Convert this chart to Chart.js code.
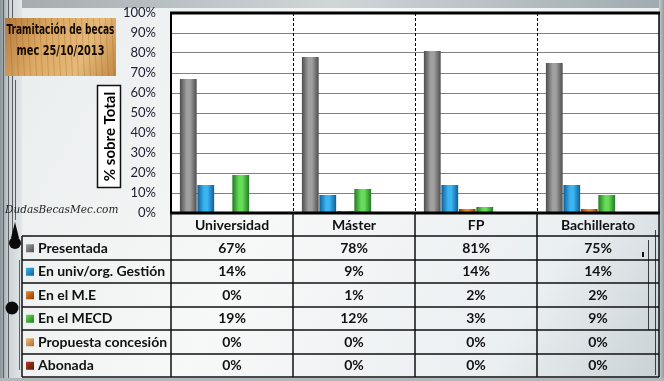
<!DOCTYPE html>
<html><head><meta charset="utf-8">
<script src="https://cdn.jsdelivr.net/npm/chart.js@4/dist/chart.umd.min.js"></script>
<style>html,body{margin:0;padding:0;background:#eef1f1;}canvas{display:block;}</style>
</head><body>
<canvas id="c" width="664" height="381"></canvas>
<script>
const categories = ['Universidad', 'Máster', 'FP', 'Bachillerato'];
const seriesNames = ['Presentada', 'En univ/org. Gestión', 'En el M.E', 'En el MECD', 'Propuesta concesión', 'Abonada'];
const presentada = [67, 78, 81, 75];
const enUniv = [14, 9, 14, 14];
const enME = [0, 1, 2, 2];
const enMECD = [19, 12, 3, 9];
const propuesta = [0, 0, 0, 0];
const abonada = [0, 0, 0, 0];
const yTicks = [0, 10, 20, 30, 40, 50, 60, 70, 80, 90, 100];
const titleLines = ['Tramitación de becas', 'mec 25/10/2013'];
const yTitle = '% sobre Total';
const watermark = 'DudasBecasMec.com';

const seriesValues = [presentada, enUniv, enME, enMECD, propuesta, abonada];
const colors = [
  {base:'#808080', edge:'#4e4e4e', mid:'#a0a0a0'},
  {base:'#1c8fd4', edge:'#0d5f98', mid:'#3bb4f0'},
  {base:'#cc6414', edge:'#8a3a08', mid:'#e88a30'},
  {base:'#40b840', edge:'#237a23', mid:'#66dc5a'},
  {base:'#e0a060', edge:'#a86a30', mid:'#f0c080'},
  {base:'#8b2a10', edge:'#5a1506', mid:'#b04020'}
];

const FONT = 'Lato, "Open Sans", "DejaVu Sans", sans-serif';

const decoPlugin = {
  id: 'deco',
  beforeDraw(chart) {
    const ctx = chart.ctx, W = chart.width, H = chart.height, ca = chart.chartArea;
    ctx.save();
    let g = ctx.createLinearGradient(0, 0, W, H);
    g.addColorStop(0, '#e8ecec');
    g.addColorStop(0.45, '#f7f8f8');
    g.addColorStop(0.8, '#eaeff1');
    g.addColorStop(1, '#c8d0d4');
    ctx.fillStyle = g; ctx.fillRect(0, 0, W, H);
    g = ctx.createLinearGradient(0, 0, W, 0);
    g.addColorStop(0, '#a2aaae'); g.addColorStop(0.5, '#d0d6d8'); g.addColorStop(1, '#a0aab0');
    ctx.fillStyle = g; ctx.fillRect(0, 0, W, 8);
    g = ctx.createLinearGradient(0, 0, 22, 0);
    g.addColorStop(0, '#8a9398'); g.addColorStop(0.4, '#cdd3d6'); g.addColorStop(1, '#e2e6e8');
    ctx.fillStyle = g; ctx.fillRect(0, 0, 22, H);
    ctx.strokeStyle = '#5a6064'; ctx.lineWidth = 1;
    [[3.5,0,H],[8.5,0,H],[12.5,0,245],[15.5,80,220],[19.5,260,370]].forEach(l => {ctx.beginPath(); ctx.moveTo(l[0], l[1]); ctx.lineTo(l[0], l[2]); ctx.stroke();});
    ctx.fillStyle = '#0a0a0a';
    ctx.beginPath(); ctx.arc(15, 243, 6, 0, Math.PI*2); ctx.fill();
    ctx.beginPath(); ctx.moveTo(11, 238); ctx.lineTo(19, 238); ctx.lineTo(15, 222); ctx.fill();
    ctx.beginPath(); ctx.arc(12, 308, 6.5, 0, Math.PI*2); ctx.fill();
    g = ctx.createLinearGradient(659, 0, W, 0);
    g.addColorStop(0, '#c4cbcf'); g.addColorStop(1, '#929ca0');
    ctx.fillStyle = g; ctx.fillRect(659, 0, 5, H);
    ctx.strokeStyle = '#3a3f42';
    ctx.beginPath(); ctx.moveTo(648.5, 240); ctx.lineTo(648.5, 330); ctx.stroke();
    ctx.beginPath(); ctx.moveTo(655.5, 230); ctx.lineTo(655.5, 375); ctx.stroke();
    ctx.fillStyle = '#111'; ctx.fillRect(642, 252, 2, 5);
    ctx.fillStyle = '#b0b8bc'; ctx.fillRect(0, 378, W, 3);
    ctx.fillStyle = '#ffffff';
    ctx.fillRect(ca.left, ca.top, ca.right - ca.left, ca.bottom - ca.top);
    g = ctx.createLinearGradient(5, 18, 116, 75);
    g.addColorStop(0, '#b57a3c'); g.addColorStop(0.35, '#dba862'); g.addColorStop(0.7, '#e6b978'); g.addColorStop(1, '#c28a48');
    ctx.fillStyle = g; ctx.fillRect(5, 18, 111, 58);
    ctx.strokeStyle = 'rgba(120,70,20,0.22)';
    for (let x = 9; x < 116; x += 6) { ctx.beginPath(); ctx.moveTo(x + 0.5, 18); ctx.lineTo(x + 3.5, 76); ctx.stroke(); }
    ctx.fillStyle = '#140a00';
    ctx.textAlign = 'center'; ctx.textBaseline = 'middle';
    ctx.font = 'bold 14px "DejaVu Sans Condensed", "Liberation Sans Narrow", sans-serif';
    ctx.fillText(titleLines[0], 60.5, 30, 108);
    ctx.fillText(titleLines[1], 60.5, 51, 88);
    ctx.restore();
  },
  beforeDatasetsDraw(chart) {
    const ctx = chart.ctx;
    chart.data.datasets.forEach((ds, di) => {
      const meta = chart.getDatasetMeta(di);
      const c = colors[di];
      meta.data.forEach(el => {
        const p = el.getProps(['x', 'width'], true);
        const x0 = p.x - p.width / 2, x1 = p.x + p.width / 2;
        const g = ctx.createLinearGradient(x0, 0, x1, 0);
        g.addColorStop(0, c.edge); g.addColorStop(0.4, c.mid); g.addColorStop(0.6, c.mid); g.addColorStop(1, c.edge);
        el.options = Object.assign({}, el.options, {backgroundColor: g});
      });
    });
  },
  afterDraw(chart) {
    const ctx = chart.ctx, ca = chart.chartArea, xs = chart.scales.x;
    ctx.save();
    const n = categories.length;
    const step = (xs.getPixelForValue(1) - xs.getPixelForValue(0));
    const edges = [];
    for (let i = 0; i <= n; i++) edges.push(xs.getPixelForValue(0) - step / 2 + i * step);
    ctx.strokeStyle = '#000'; ctx.lineWidth = 1; ctx.setLineDash([3, 2]);
    for (let i = 1; i < n; i++) { const x = Math.round(edges[i]) + 0.5; ctx.beginPath(); ctx.moveTo(x, ca.top); ctx.lineTo(x, ca.bottom); ctx.stroke(); }
    ctx.setLineDash([]);
    ctx.lineWidth = 3;
    ctx.beginPath(); ctx.moveTo(ca.left - 1, ca.top); ctx.lineTo(ca.right + 1, ca.top); ctx.stroke();
    ctx.beginPath(); ctx.moveTo(ca.left - 1, ca.bottom); ctx.lineTo(ca.right + 1, ca.bottom); ctx.stroke();
    ctx.lineWidth = 2;
    ctx.beginPath(); ctx.moveTo(ca.left, ca.top); ctx.lineTo(ca.left, ca.bottom); ctx.stroke();
    ctx.lineWidth = 1.5;
    ctx.beginPath(); ctx.moveTo(ca.right, ca.top); ctx.lineTo(ca.right, ca.bottom); ctx.stroke();
    const rowTop = 236, rowH = 23.5, tableLeft = 22, nRows = seriesNames.length;
    const tableBottom = rowTop + nRows * rowH;
    ctx.lineWidth = 1.5; ctx.strokeStyle = '#111';
    for (let r = 0; r <= nRows; r++) {
      const y = Math.round(rowTop + r * rowH);
      ctx.beginPath(); ctx.moveTo(tableLeft, y); ctx.lineTo(ca.right, y); ctx.stroke();
    }
    for (let i = 0; i <= n; i++) {
      const x = Math.round(edges[i]);
      ctx.beginPath(); ctx.moveTo(x, ca.bottom); ctx.lineTo(x, tableBottom); ctx.stroke();
    }
    ctx.beginPath(); ctx.moveTo(tableLeft, rowTop); ctx.lineTo(tableLeft, tableBottom); ctx.stroke();
    ctx.textBaseline = 'middle';
    ctx.font = 'bold 14px ' + FONT;
    for (let r = 0; r < nRows; r++) {
      const yc = rowTop + r * rowH + rowH / 2 + 0.5;
      const c = colors[r];
      const kg = ctx.createLinearGradient(26, yc - 4, 34, yc + 4);
      kg.addColorStop(0, c.mid); kg.addColorStop(1, c.edge);
      ctx.fillStyle = kg; ctx.fillRect(26, yc - 4, 8, 8);
      ctx.fillStyle = '#111'; ctx.textAlign = 'left';
      ctx.fillText(seriesNames[r], 38, yc);
      ctx.textAlign = 'center';
      for (let i = 0; i < n; i++) ctx.fillText(seriesValues[r][i] + '%', xs.getPixelForValue(i), yc);
    }
    ctx.fillStyle = '#fff'; ctx.fillRect(97, 85, 24, 103);
    ctx.strokeStyle = '#111'; ctx.lineWidth = 1.5; ctx.strokeRect(97.5, 85.5, 23, 102);
    ctx.translate(109.5, 136.5); ctx.rotate(-Math.PI / 2);
    ctx.fillStyle = '#000'; ctx.font = 'bold 15px ' + FONT; ctx.textAlign = 'center';
    ctx.fillText(yTitle, 0, 1);
    ctx.setTransform(1, 0, 0, 1, 0, 0);
    ctx.font = 'italic 10.5px "DejaVu Serif", serif';
    ctx.fillStyle = '#222'; ctx.textAlign = 'left';
    ctx.fillText(watermark, 5, 210, 117);
    ctx.restore();
  }
};

new Chart(document.getElementById('c'), {
  type: 'bar',
  data: {
    labels: categories,
    datasets: seriesNames.map((name, i) => ({
      label: name,
      data: seriesValues[i],
      backgroundColor: colors[i].base,
      borderWidth: 0,
      categoryPercentage: 0.86,
      barPercentage: 0.96
    }))
  },
  options: {
    responsive: false,
    animation: false,
    events: [],
    layout: { padding: { top: 13, right: 5, left: 0, bottom: 0 } },
    plugins: { legend: { display: false }, tooltip: { enabled: false }, title: { display: false } },
    scales: {
      x: {
        grid: { display: false, drawTicks: false },
        border: { display: false },
        ticks: { color: '#111', font: { family: FONT, size: 14, weight: 'bold' }, padding: 4, maxRotation: 0 },
        afterFit(s) { s.height = 168; s.paddingLeft = 0; s.paddingRight = 0; }
      },
      y: {
        min: 0, max: 100,
        afterBuildTicks(s) { s.ticks = yTicks.map(v => ({ value: v })); },
        grid: { color: '#808080', lineWidth: 1, drawTicks: false },
        border: { display: false },
        ticks: { color: '#1c1c30', font: { family: FONT, size: 13 }, padding: 15, callback: v => v + '%' },
        afterFit(s) { s.width = 171; s.paddingTop = 0; s.paddingBottom = 0; }
      }
    }
  },
  plugins: [decoPlugin]
});
</script>
</body></html>
